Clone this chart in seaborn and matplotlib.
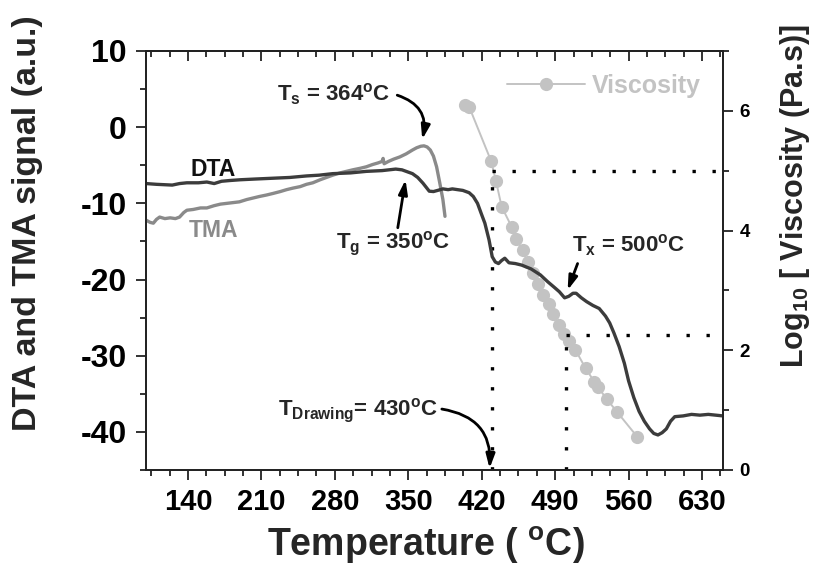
import numpy as np
import pandas as pd
import matplotlib
matplotlib.use("Agg")
import matplotlib.pyplot as plt
from matplotlib.ticker import MultipleLocator
import seaborn as sns

# ---------------- data ----------------
dta_temp = [100, 110, 125, 132, 139, 150, 158, 165, 172, 180, 190, 205, 221, 237, 253, 265,
            278, 295, 310, 325, 338, 344, 348, 354, 359, 364, 370, 374, 378, 383, 388, 392,
            397, 402, 408, 412, 416, 420, 423, 427, 430, 433, 436, 439, 442, 446, 452, 458,
            467, 476, 483, 489, 494, 499, 503, 507, 510, 515, 520, 526, 532, 538, 542, 546,
            551, 556, 560, 565, 570, 575, 580, 584, 588, 592, 596, 600, 604, 612, 620, 628,
            636, 643, 650]
dta_signal = [-7.4, -7.5, -7.6, -7.4, -7.3, -7.3, -7.2, -7.4, -7.1, -7.0, -6.9, -6.8, -6.7, -6.6,
              -6.4, -6.3, -6.1, -6.0, -5.8, -5.7, -5.5, -5.6, -5.8, -6.1, -6.6, -7.35, -8.4,
              -8.45, -8.3, -8.1, -8.2, -8.1, -8.2, -8.3, -8.6, -9.1, -10.0, -11.5, -12.6,
              -14.8, -17.0, -17.7, -17.9, -17.5, -17.2, -17.8, -17.9, -18.1, -18.6, -19.4,
              -20.3, -21.0, -21.6, -22.4, -22.2, -21.8, -21.8, -22.4, -22.9, -23.4, -23.8,
              -24.8, -25.7, -27.0, -28.8, -31.0, -33.3, -35.5, -37.3, -38.6, -39.6, -40.2,
              -40.4, -40.1, -39.6, -38.6, -38.0, -37.9, -37.7, -37.8, -37.7, -37.8, -37.9]

tma_temp = [100, 104, 107, 110, 113, 118, 123, 128, 132, 136, 139, 145, 152, 158, 165, 171,
            177, 183, 189, 196, 202, 208, 215, 221, 228, 234, 240, 247, 253, 259, 266, 272,
            278, 285, 291, 297, 304, 310, 316, 321, 325, 326, 327, 331, 336, 342, 348, 354,
            358, 362, 365, 368, 371, 374, 377, 380, 383, 385]
tma_signal = [-12.2, -12.5, -12.6, -12.1, -11.8, -12.0, -11.9, -12.0, -11.8, -11.2, -10.9,
              -10.8, -10.6, -10.6, -10.3, -10.1, -10.0, -9.9, -9.8, -9.5, -9.3, -9.1, -8.9,
              -8.7, -8.45, -8.2, -8.0, -7.8, -7.5, -7.3, -6.9, -6.6, -6.3, -6.0, -5.8, -5.6,
              -5.4, -5.2, -4.9, -4.7, -4.5, -4.1, -4.8, -4.5, -4.2, -3.9, -3.5, -3.0, -2.7,
              -2.5, -2.45, -2.6, -3.0, -3.8, -5.2, -7.3, -9.5, -11.7]

visc_temp = [404.5, 408, 429, 433.7, 439, 448.6, 452.7, 459, 464, 469, 473.7, 478, 483.8,
             488.2, 493.3, 498.7, 503.5, 509.2, 519, 527.5, 531, 539, 549, 568.5]
visc_log = [6.09, 6.07, 5.16, 4.82, 4.40, 4.06, 3.86, 3.67, 3.47, 3.29, 3.10, 2.92, 2.78,
            2.61, 2.43, 2.27, 2.16, 2.01, 1.70, 1.47, 1.38, 1.19, 0.97, 0.55]

x_ticks = [140, 210, 280, 350, 420, 490, 560, 630]
left_ticks = [10, 0, -10, -20, -30, -40]
right_ticks = [0, 2, 4, 6]

T_DRAW, VISC_DRAW = 430, 5.0
T_X, VISC_X = 500, 2.25

# ---------------- style ----------------
sns.set_theme(style="ticks")
plt.rcParams["font.family"] = ["Liberation Sans", "DejaVu Sans"]
plt.rcParams["font.weight"] = "bold"
plt.rcParams["axes.unicode_minus"] = False
plt.rcParams["mathtext.fontset"] = "custom"
plt.rcParams["mathtext.rm"] = "Liberation Sans:bold"
plt.rcParams["mathtext.it"] = "Liberation Sans:bold"
plt.rcParams["mathtext.bf"] = "Liberation Sans:bold"
plt.rcParams["mathtext.sf"] = "Liberation Sans:bold"
plt.rcParams["mathtext.default"] = "rm"

C_DTA = "#3c3c3c"
C_TMA = "#8a8a8a"
C_VISC = "#c3c3c3"

fig = plt.figure(figsize=(8.17, 5.65), dpi=100)
ax = fig.add_axes([146 / 817, 1 - 470 / 565, 577 / 817, 419 / 565])
ax2 = ax.twinx()

df_dta = pd.DataFrame({"T": dta_temp, "v": dta_signal})
df_tma = pd.DataFrame({"T": tma_temp, "v": tma_signal})
df_visc = pd.DataFrame({"T": visc_temp, "v": visc_log})

sns.lineplot(data=df_tma, x="T", y="v", ax=ax, color=C_TMA, lw=2.4, sort=False,
             estimator=None, legend=False)
sns.lineplot(data=df_dta, x="T", y="v", ax=ax, color=C_DTA, lw=2.4, sort=False,
             estimator=None, legend=False)
sns.lineplot(data=df_visc, x="T", y="v", ax=ax2, color=C_VISC, lw=1.4, sort=False,
             estimator=None, marker="o", markersize=9.5, markeredgewidth=0,
             label="Viscosity")

# reference dotted lines (right axis units)
dot = dict(color="black", lw=2.4, linestyle=(0, (1, 5.0)))
ax2.plot([T_DRAW, 650], [VISC_DRAW, VISC_DRAW], **dot)
ax2.plot([T_DRAW, T_DRAW], [0, VISC_DRAW], **dot)
ax2.plot([T_X, 650], [VISC_X, VISC_X], **dot)
ax2.plot([T_X, T_X], [0, VISC_X], **dot)

# axes limits / ticks
ax.set_xlim(100, 650)
ax.set_ylim(-45, 10)
ax2.set_ylim(0, 7)
ax.set_xticks(x_ticks)
ax.xaxis.set_minor_locator(MultipleLocator(17.5))
ax.set_yticks(left_ticks)
ax.yaxis.set_minor_locator(MultipleLocator(5))
ax2.set_yticks(right_ticks)
ax2.yaxis.set_minor_locator(MultipleLocator(1))

for a in (ax, ax2):
    for s in a.spines.values():
        s.set_linewidth(1.3)
        s.set_color("#222222")

ax.tick_params(axis="x", which="major", direction="out", length=7, width=1.3,
               labelsize=21, pad=6, top=False, colors="#222222", labelcolor="black")
ax.tick_params(axis="x", which="minor", direction="out", length=4, width=1.3, top=False,
               colors="#222222")
ax.tick_params(axis="y", which="major", direction="out", length=7, width=1.3,
               labelsize=23, pad=7, right=False, colors="#222222", labelcolor="black")
ax.tick_params(axis="y", which="minor", direction="out", length=4, width=1.3, right=False,
               colors="#222222")
ax2.tick_params(axis="y", which="major", direction="out", length=7, width=1.3,
                labelsize=13.5, pad=5, colors="#222222", labelcolor="black")
ax2.tick_params(axis="y", which="minor", direction="out", length=4, width=1.3,
                colors="#222222")

top = ax.secondary_xaxis("top")
top.set_xticks(x_ticks)
top.xaxis.set_minor_locator(MultipleLocator(17.5))
top.tick_params(which="major", direction="in", length=7, width=1.3, labeltop=False,
                colors="#222222")
top.tick_params(which="minor", direction="in", length=4, width=1.3, labeltop=False,
                colors="#222222")
top.spines["top"].set_linewidth(1.3)

for lab in ax.get_xticklabels() + ax.get_yticklabels() + ax2.get_yticklabels():
    lab.set_fontweight("bold")

ax.set_xlabel(r"Temperature ( $^{o}$C)", fontsize=27, fontweight="bold")
ax.xaxis.set_label_coords(0.485, -0.13)
ax.set_ylabel("DTA and TMA signal (a.u.)", fontsize=24.5, fontweight="bold")
ax.yaxis.set_label_coords(-0.178, 0.589)
ax2.set_ylabel(r"Log$_{10}$ [ Viscosity (Pa.s)]", fontsize=22, fontweight="bold")
ax2.yaxis.set_label_coords(1.095, 0.654)

# legend
leg = ax2.legend(loc="center right", bbox_to_anchor=(0.962, 0.916), frameon=False,
                 borderpad=0, borderaxespad=0, handlelength=3.1, handletextpad=0.3,
                 prop={"weight": "bold", "size": 18}, labelcolor=C_VISC)

# curve labels
ax.text(142, -5.6, "DTA", fontsize=16.5, fontweight="bold", color="#111111",
        ha="left", va="center")
ax.text(141, -13.5, "TMA", fontsize=16.5, fontweight="bold", color=C_TMA,
        ha="left", va="center")

# annotations
fs_ann = 16
ax.text(224.5, 4.3, r"T$_{s}$ = 364$^{o}$C", fontsize=fs_ann, fontweight="bold",
        ha="left", va="center")
ax.text(281.5, -15.3, r"T$_{g}$ = 350$^{o}$C", fontsize=fs_ann, fontweight="bold",
        ha="left", va="center")
ax.text(506, -15.5, r"T$_{x}$ = 500$^{o}$C", fontsize=fs_ann, fontweight="bold",
        ha="left", va="center")
ax.text(225.5, -37.2, r"T$_{Drawing}$= 430$^{o}$C", fontsize=fs_ann, fontweight="bold",
        ha="left", va="center")

arr_head = "-|>,head_length=0.7,head_width=0.22"
ax.annotate("", xy=(363.3, -1.6), xytext=(339.5, 4.2),
            arrowprops=dict(arrowstyle=arr_head, lw=2, color="black",
                            connectionstyle="arc3,rad=-0.45", shrinkA=0, shrinkB=0))
ax.annotate("", xy=(347.4, -6.9), xytext=(340, -13.2),
            arrowprops=dict(arrowstyle=arr_head, lw=2, color="black", shrinkA=0, shrinkB=0))
ax.annotate("", xy=(501.9, -21.4), xytext=(511.4, -17.9),
            arrowprops=dict(arrowstyle=arr_head, lw=2, color="black", shrinkA=0, shrinkB=0))
ax.annotate("", xy=(427.5, -44.8), xytext=(382, -37.0),
            arrowprops=dict(arrowstyle=arr_head, lw=2, color="black",
                            connectionstyle="arc3,rad=-0.45", shrinkA=0, shrinkB=0))

ax.set_zorder(ax2.get_zorder() + 1)
ax.patch.set_visible(False)

fig.savefig("out.png", dpi=100)
